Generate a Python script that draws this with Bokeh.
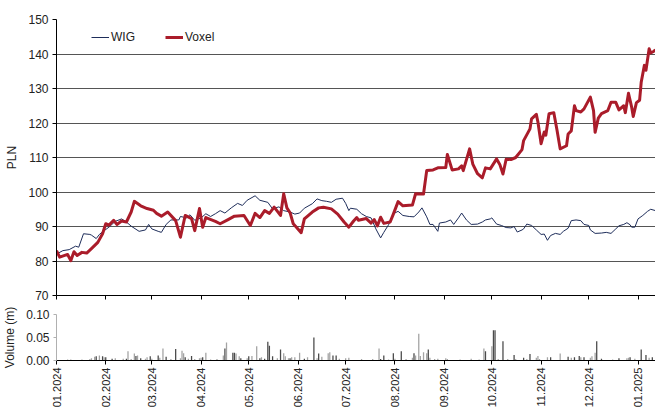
import pandas as pd
from math import pi
from bokeh.plotting import figure
from bokeh.layouts import column
from bokeh.models import (Range1d, FixedTicker, DatetimeTickFormatter, NumeralTickFormatter,
                          Legend, LegendItem, ColumnDataSource, CustomJSTickFormatter)
from bokeh.embed import file_html
from bokeh.resources import INLINE

FONT = "Liberation Sans"

# ---------------- data ----------------
voxel_dates = [
    "2024-01-01", "2024-01-03", "2024-01-08", "2024-01-10", "2024-01-12", "2024-01-14", "2024-01-17",
    "2024-01-20", "2024-01-23", "2024-01-27", "2024-01-30", "2024-02-01", "2024-02-03", "2024-02-06",
    "2024-02-08", "2024-02-11", "2024-02-14", "2024-02-17", "2024-02-19", "2024-02-23", "2024-02-27",
    "2024-03-02", "2024-03-04", "2024-03-07", "2024-03-11", "2024-03-16", "2024-03-19", "2024-03-22",
    "2024-03-26", "2024-03-28", "2024-03-31", "2024-04-02", "2024-04-04", "2024-04-10", "2024-04-13",
    "2024-04-18", "2024-04-22", "2024-04-28", "2024-05-02", "2024-05-05", "2024-05-08", "2024-05-11",
    "2024-05-14", "2024-05-17", "2024-05-21", "2024-05-23", "2024-05-25", "2024-05-27", "2024-05-29",
    "2024-05-31", "2024-06-03", "2024-06-05", "2024-06-10", "2024-06-14", "2024-06-17", "2024-06-22",
    "2024-06-26", "2024-06-30", "2024-07-03", "2024-07-06", "2024-07-08", "2024-07-09", "2024-07-14",
    "2024-07-17", "2024-07-19", "2024-07-21", "2024-07-23", "2024-07-25", "2024-07-29", "2024-07-31",
    "2024-08-03", "2024-08-06", "2024-08-12", "2024-08-14", "2024-08-19", "2024-08-21", "2024-08-25",
    "2024-08-28", "2024-09-02", "2024-09-03", "2024-09-06", "2024-09-10", "2024-09-12", "2024-09-13",
    "2024-09-17", "2024-09-19", "2024-09-22", "2024-09-25", "2024-09-27", "2024-09-30", "2024-10-04",
    "2024-10-06", "2024-10-08", "2024-10-10", "2024-10-13", "2024-10-16", "2024-10-20", "2024-10-21",
    "2024-10-25", "2024-10-26", "2024-10-29", "2024-10-30", "2024-11-01", "2024-11-03", "2024-11-04",
    "2024-11-06", "2024-11-09", "2024-11-11", "2024-11-13", "2024-11-17", "2024-11-18", "2024-11-20",
    "2024-11-22", "2024-11-23", "2024-11-26", "2024-11-28", "2024-12-02", "2024-12-04", "2024-12-05",
    "2024-12-07", "2024-12-09", "2024-12-13", "2024-12-15", "2024-12-18", "2024-12-20", "2024-12-23",
    "2024-12-24", "2024-12-26", "2024-12-28", "2024-12-29", "2024-12-31", "2025-01-02", "2025-01-03",
    "2025-01-05", "2025-01-06", "2025-01-08", "2025-01-09", "2025-01-11", "2025-01-12",
]
voxel_vals = [
    83.0, 81.1, 81.9, 80.1, 82.7, 81.6, 82.5,
    82.3, 83.6, 85.4, 87.9, 90.8, 90.4, 91.8,
    90.6, 91.6, 91.3, 94.2, 97.3, 96.0, 95.2,
    94.7, 93.8, 93.0, 94.2, 91.7, 86.9, 93.2,
    92.3, 88.8, 95.2, 89.8, 92.6, 91.5, 90.8,
    92.0, 93.0, 93.2, 90.3, 93.8, 92.6, 94.6,
    93.8, 95.6, 93.2, 99.5, 95.4, 94.0, 90.8,
    89.8, 88.2, 92.2, 94.2, 95.4, 95.6, 95.1,
    93.6, 91.3, 89.8, 91.6, 92.6, 91.8, 92.3,
    91.0, 92.0, 90.2, 92.7, 90.9, 91.3, 93.6,
    97.2, 96.0, 96.2, 99.5, 99.4, 106.2, 106.4,
    107.0, 107.1, 110.9, 106.4, 106.7, 107.6, 106.2,
    112.5, 108.1, 105.3, 104.1, 107.0, 106.7, 109.6,
    108.0, 105.2, 109.5, 109.4, 110.0, 112.3, 114.9,
    118.3, 121.2, 122.5, 120.3, 114.0, 117.4, 116.5,
    122.7, 123.0, 118.0, 112.5, 113.4, 116.8, 117.7,
    125.0, 123.6, 123.2, 124.1, 127.5, 123.6, 117.3,
    121.4, 122.7, 123.6, 126.0, 126.0, 123.8, 125.0,
    123.0, 128.6, 124.6, 121.9, 125.9, 126.6, 131.8,
    136.7, 135.3, 141.5, 140.3, 140.8, 141.2,
]

wig_dates = [
    "2024-01-01", "2024-01-05", "2024-01-09", "2024-01-13", "2024-01-15", "2024-01-18", "2024-01-22",
    "2024-01-23", "2024-01-26", "2024-01-28", "2024-01-31", "2024-02-03", "2024-02-07", "2024-02-11",
    "2024-02-14", "2024-02-17", "2024-02-22", "2024-02-26", "2024-02-28", "2024-03-01", "2024-03-05",
    "2024-03-07", "2024-03-10", "2024-03-13", "2024-03-18", "2024-03-19", "2024-03-23", "2024-03-25",
    "2024-03-28", "2024-04-01", "2024-04-04", "2024-04-07", "2024-04-10", "2024-04-13", "2024-04-16",
    "2024-04-20", "2024-04-24", "2024-04-27", "2024-04-30", "2024-05-05", "2024-05-08", "2024-05-13",
    "2024-05-16", "2024-05-20", "2024-05-23", "2024-05-27", "2024-05-30", "2024-06-02", "2024-06-05",
    "2024-06-10", "2024-06-13", "2024-06-16", "2024-06-19", "2024-06-22", "2024-06-25", "2024-06-29",
    "2024-07-01", "2024-07-03", "2024-07-04", "2024-07-08", "2024-07-11", "2024-07-14", "2024-07-17",
    "2024-07-20", "2024-07-23", "2024-07-25", "2024-07-28", "2024-07-31", "2024-08-03", "2024-08-06",
    "2024-08-10", "2024-08-13", "2024-08-16", "2024-08-18", "2024-08-21", "2024-08-23", "2024-08-25",
    "2024-08-28", "2024-08-29", "2024-09-02", "2024-09-05", "2024-09-07", "2024-09-10", "2024-09-12",
    "2024-09-15", "2024-09-18", "2024-09-22", "2024-09-25", "2024-09-27", "2024-09-30", "2024-10-01",
    "2024-10-04", "2024-10-07", "2024-10-10", "2024-10-13", "2024-10-15", "2024-10-17", "2024-10-20",
    "2024-10-21", "2024-10-23", "2024-10-26", "2024-10-29", "2024-11-01", "2024-11-03", "2024-11-05",
    "2024-11-07", "2024-11-10", "2024-11-13", "2024-11-15", "2024-11-18", "2024-11-20", "2024-11-23",
    "2024-11-26", "2024-11-28", "2024-12-01", "2024-12-02", "2024-12-05", "2024-12-09", "2024-12-12",
    "2024-12-15", "2024-12-18", "2024-12-20", "2024-12-23", "2024-12-25", "2024-12-27", "2024-12-28",
    "2024-12-30", "2025-01-01", "2025-01-04", "2025-01-07", "2025-01-09", "2025-01-12",
]
wig_vals = [
    82.0, 83.0, 83.3, 84.3, 84.0, 87.9, 87.7,
    87.5, 86.5, 87.7, 88.8, 89.8, 91.5, 92.2,
    91.3, 90.1, 88.6, 89.0, 90.6, 89.3, 88.6,
    88.3, 90.6, 91.9, 91.9, 92.9, 92.5, 93.4,
    91.8, 92.5, 93.7, 92.9, 93.7, 94.6, 93.9,
    95.4, 96.7, 96.1, 97.6, 98.9, 97.6, 97.0,
    95.1, 95.7, 94.6, 94.2, 93.6, 93.9, 95.3,
    96.6, 98.0, 97.5, 97.3, 97.0, 97.9, 98.2,
    96.7, 94.6, 95.3, 95.0, 93.7, 92.9, 92.5,
    89.3, 86.7, 88.3, 90.5, 93.7, 94.4, 93.2,
    92.9, 92.8, 94.2, 95.4, 92.8, 90.6, 90.6,
    88.6, 91.0, 91.3, 91.9, 90.6, 92.5, 93.9,
    91.9, 90.6, 90.7, 91.3, 91.9, 92.2, 92.5,
    90.7, 90.3, 89.7, 89.6, 90.0, 88.4, 89.0,
    89.3, 90.7, 90.3, 89.0, 87.7, 87.8, 86.0,
    87.4, 88.0, 87.7, 88.6, 89.5, 91.7, 91.9,
    91.7, 90.6, 90.3, 89.0, 88.0, 88.1, 88.3,
    88.0, 89.3, 90.2, 90.6, 91.1, 90.5, 89.8,
    89.8, 92.2, 93.2, 94.4, 95.0, 94.6,
]

# volume: day offset from 2024-01-01, value (m shares), shade (L = light, D = dark)
vol_start = "2024-01-01"
vol_day = [
    7, 9, 16, 21, 22, 24, 25, 27, 29, 30,
    31, 35, 37, 42, 44, 45, 47, 49, 50, 51,
    53, 56, 57, 59, 60, 64, 65, 67, 69, 72,
    75, 78, 79, 80, 81, 83, 85, 87, 90, 91,
    92, 94, 97, 101, 105, 106, 107, 111, 112, 113,
    115, 116, 120, 121, 123, 126, 128, 129, 131, 133,
    134, 136, 139, 141, 143, 144, 146, 147, 148, 150,
    153, 156, 158, 162, 164, 165, 167, 171, 172, 174,
    176, 178, 182, 184, 192, 199, 203, 204, 206, 209,
    212, 213, 217, 220, 224, 225, 226, 228, 229, 231,
    233, 234, 235, 238, 240, 245, 246, 254, 261, 266,
    269, 270, 274, 275, 276, 278, 281, 284, 288, 289,
    294, 296, 298, 302, 303, 304, 309, 311, 317, 322,
    324, 326, 329, 330, 332, 336, 337, 339, 340, 343,
    350, 354, 359, 360, 361, 364, 368, 371, 373, 375,
]
vol_vals = [
    .002, .002, .002, .003, .005, .008, .009, .011, .009, .007,
    .007, .004, .005, .004, .004, .020, .003, .015, .010, .011,
    .005, .004, .007, .009, .004, .011, .006, .026, .008, .003,
    .025, .005, .021, .016, .007, .004, .010, .003, .005, .006,
    .007, .017, .002, .003, .011, .026, .039, .017, .017, .015,
    .009, .005, .005, .009, .010, .031, .005, .007, .004, .041,
    .032, .009, .005, .024, .016, .009, .005, .005, .007, .007,
    .017, .004, .007, .050, .005, .015, .008, .016, .018, .011,
    .011, .004, .005, .006, .003, .003, .026, .003, .011, .002,
    .016, .004, .020, .003, .006, .016, .011, .058, .010, .018,
    .016, .024, .006, .003, .004, .005, .003, .002, .004, .002,
    .026, .020, .031, .066, .066, .003, .042, .003, .012, .003,
    .006, .003, .014, .006, .010, .003, .007, .007, .015, .008,
    .006, .007, .010, .007, .007, .006, .009, .017, .042, .004,
    .002, .005, .005, .006, .007, .004, .024, .012, .006, .007,
]
vol_shade = ("LLLLLLDLDL" "DDLLDLLLDL" "DLLDLDLLDL" "DLLLDLDLLL" "DLLLLDLDDL"
             "LDLDLLDLDD" "DDLDLLLDLL" "LDLDLDLLLD" "DLLLLLLDDL" "DLDLLDLLLL"
             "LDLLLLLLLL" "LDLDDLDLDL" "DLDLLLLDLD" "LDDLDLLLDD" "LDLLDLDDLD")

month_ticks = ["2024-01-01", "2024-02-01", "2024-03-01", "2024-04-01", "2024-05-01",
               "2024-06-01", "2024-07-01", "2024-08-01", "2024-09-01", "2024-10-01",
               "2024-11-01", "2024-12-01", "2025-01-01"]
x_start, x_end = "2024-01-01", "2025-01-12"
price_ticks = [70, 80, 90, 100, 110, 120, 130, 140, 150]
vol_ticks = [0.0, 0.05, 0.10]

# ---------------- styling ----------------
RED = "#AA1C2A"
NAVY = "#1E2D5A"
TXT = "#222222"
W = 655

xr = Range1d(pd.Timestamp(x_start), pd.Timestamp(x_end))
tick_ms = [int(pd.Timestamp(t).value // 10**6) for t in month_ticks]

p1 = figure(width=W, height=305, x_range=xr, y_range=Range1d(70, 150),
            x_axis_type="datetime", output_backend="svg", toolbar_location=None,
            min_border_left=49, min_border_right=0, min_border_top=19, min_border_bottom=10)
p1.outline_line_color = None
p1.xgrid.visible = False
p1.ygrid.grid_line_color = "#555555"
p1.ygrid.grid_line_width = 1
p1.yaxis.ticker = FixedTicker(ticks=price_ticks)
p1.yaxis.axis_label = "PLN"
p1.yaxis.axis_label_text_font = FONT
p1.yaxis.axis_label_text_font_size = "12px"
p1.yaxis.axis_label_text_font_style = "normal"
p1.yaxis.axis_label_text_color = TXT
p1.yaxis.axis_label_standoff = 6
p1.yaxis.major_label_text_font = FONT
p1.yaxis.major_label_text_font_size = "12px"
p1.yaxis.major_label_text_color = TXT
p1.yaxis.major_label_standoff = 4
p1.yaxis.major_tick_in = 0
p1.yaxis.major_tick_out = 4
p1.yaxis.minor_tick_line_color = None
p1.yaxis.axis_line_color = "black"
p1.xaxis.ticker = FixedTicker(ticks=tick_ms)
p1.xaxis.formatter = CustomJSTickFormatter(code="return ''")
p1.xaxis.major_label_standoff = 0
p1.xaxis.major_label_text_font_size = "1px"
p1.xaxis.major_tick_in = 0
p1.xaxis.major_tick_out = 4
p1.xaxis.minor_tick_line_color = None
p1.xaxis.axis_line_color = "black"

src_w = ColumnDataSource(dict(x=pd.to_datetime(wig_dates), y=wig_vals))
src_v = ColumnDataSource(dict(x=pd.to_datetime(voxel_dates), y=voxel_vals))
r_w = p1.line("x", "y", source=src_w, line_color=NAVY, line_width=1)
r_v = p1.line("x", "y", source=src_v, line_color=RED, line_width=3, line_join="round")

legend = Legend(items=[LegendItem(label="WIG", renderers=[r_w]),
                       LegendItem(label="Voxel", renderers=[r_v])],
                location=(35, 248), orientation="horizontal",
                border_line_color=None, background_fill_alpha=0,
                padding=0, margin=0, spacing=30, glyph_width=18, glyph_height=20,
                label_height=20, label_standoff=2,
                label_text_font=FONT, label_text_font_size="12px", label_text_color=TXT)
p1.add_layout(legend)

# ---------------- volume ----------------
vol_x = pd.Timestamp(vol_start) + pd.to_timedelta(vol_day, unit="D")
vol_col = ["#a3a3a3" if s == "L" else "#4a4a4a" for s in vol_shade]
src_vol = ColumnDataSource(dict(x=vol_x, top=vol_vals, c=vol_col))

p2 = figure(width=W, height=105, x_range=xr, y_range=Range1d(0, 0.10),
            x_axis_type="datetime", output_backend="svg", toolbar_location=None,
            min_border_left=49, min_border_right=0, min_border_top=9, min_border_bottom=50)
p2.outline_line_color = None
p2.grid.visible = False
p2.vbar(x="x", top="top", bottom=0, width=0.8 * 86400000, source=src_vol,
        fill_color="c", line_color=None)
p2.yaxis.ticker = FixedTicker(ticks=vol_ticks)
p2.yaxis.formatter = NumeralTickFormatter(format="0.00")
p2.yaxis.axis_label = "Volume (m)"
p2.yaxis.axis_label_text_font = FONT
p2.yaxis.axis_label_text_font_size = "12px"
p2.yaxis.axis_label_text_font_style = "normal"
p2.yaxis.axis_label_text_color = TXT
p2.yaxis.axis_label_standoff = 6
p2.yaxis.major_label_text_font = FONT
p2.yaxis.major_label_text_font_size = "12px"
p2.yaxis.major_label_text_color = TXT
p2.yaxis.major_label_standoff = 4
p2.yaxis.major_tick_in = 0
p2.yaxis.major_tick_out = 3
p2.yaxis.major_tick_line_color = "#b0b0b0"
p2.yaxis.minor_tick_line_color = None
p2.yaxis.axis_line_color = "#b0b0b0"
p2.xaxis.ticker = FixedTicker(ticks=tick_ms)
fmt = "%m.%Y"
p2.xaxis.formatter = DatetimeTickFormatter(days=fmt, months=fmt, years=fmt, hours=fmt,
                                           hourmin=fmt, minutes=fmt, minsec=fmt, seconds=fmt,
                                           milliseconds=fmt, microseconds=fmt)
p2.xaxis.major_label_orientation = pi / 2
p2.xaxis.major_label_text_font = FONT
p2.xaxis.major_label_text_font_size = "11px"
p2.xaxis.major_label_text_color = TXT
p2.xaxis.major_label_standoff = 3
p2.xaxis.major_tick_in = 0
p2.xaxis.major_tick_out = 4
p2.xaxis.minor_tick_line_color = None
p2.xaxis.axis_line_color = "black"

layout = column(p1, p2, spacing=0)
open("out.html", "w").write(file_html(layout, INLINE))
